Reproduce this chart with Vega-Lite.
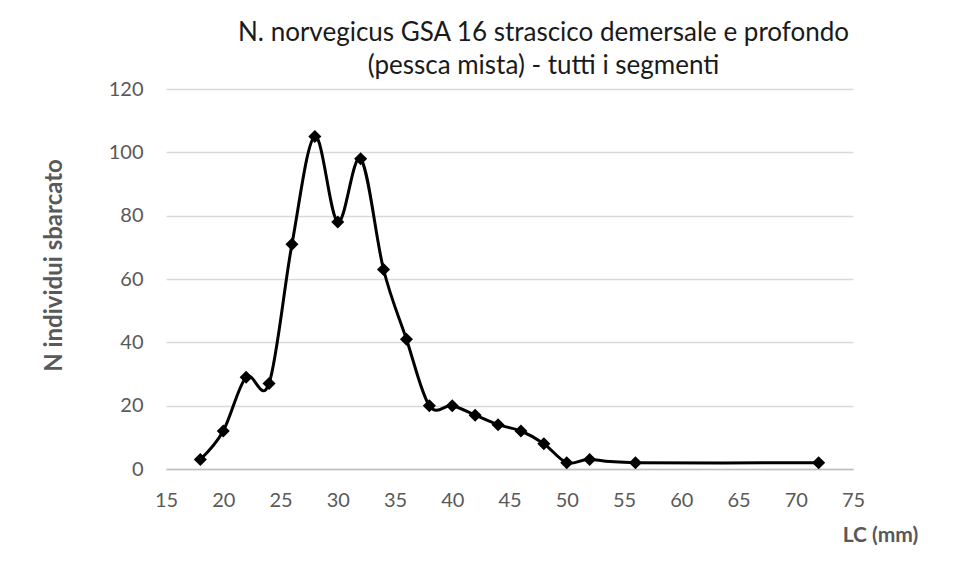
{
  "$schema": "https://vega.github.io/schema/vega-lite/v6.json",
  "width": 687,
  "height": 380,
  "autosize": {"type": "none"},
  "padding": {"left": 166, "top": 89, "right": 106, "bottom": 110},
  "background": "white",
  "config": {
    "font": "Lato",
    "view": {"stroke": null}
  },
  "title": {
    "text": ["N. norvegicus GSA 16 strascico demersale e profondo", "(pessca mista) - tutti i segmenti"],
    "font": "Lato",
    "fontSize": 26,
    "fontWeight": "normal",
    "color": "#1a1a1a",
    "anchor": "middle",
    "frame": "group",
    "dx": 34,
    "lineHeight": 33,
    "offset": 0
  },
  "data": {
    "values": [
      {"lc": 18, "n": 3},
      {"lc": 20, "n": 12},
      {"lc": 22, "n": 29},
      {"lc": 24, "n": 27},
      {"lc": 26, "n": 71},
      {"lc": 28, "n": 105},
      {"lc": 30, "n": 78},
      {"lc": 32, "n": 98},
      {"lc": 34, "n": 63},
      {"lc": 36, "n": 41},
      {"lc": 38, "n": 20},
      {"lc": 40, "n": 20},
      {"lc": 42, "n": 17},
      {"lc": 44, "n": 14},
      {"lc": 46, "n": 12},
      {"lc": 48, "n": 8},
      {"lc": 50, "n": 2},
      {"lc": 52, "n": 3},
      {"lc": 56, "n": 2},
      {"lc": 72, "n": 2}
    ]
  },
  "encoding": {
    "x": {
      "field": "lc",
      "type": "quantitative",
      "scale": {"domain": [15, 75], "nice": false, "zero": false},
      "axis": {
        "values": [15, 20, 25, 30, 35, 40, 45, 50, 55, 60, 65, 70, 75],
        "grid": false,
        "ticks": false,
        "domain": true,
        "domainColor": "#BFBFBF",
        "domainWidth": 1.5,
        "labelFont": "Lato",
        "labelFontSize": 20,
        "labelColor": "#595959",
        "labelPadding": 21,
        "labelFlush": false,
        "title": "LC (mm)",
        "titleFont": "Lato",
        "titleFontSize": 21,
        "titleFontWeight": "bold",
        "titleColor": "#595959",
        "titleX": 714,
        "titleY": 66,
        "titleAlign": "center",
        "titleBaseline": "middle"
      }
    },
    "y": {
      "field": "n",
      "type": "quantitative",
      "scale": {"domain": [0, 120], "nice": false},
      "axis": {
        "values": [0, 20, 40, 60, 80, 100, 120],
        "grid": true,
        "gridColor": "#D9D9D9",
        "gridWidth": 1.5,
        "ticks": false,
        "domain": false,
        "labelFont": "Lato",
        "labelFontSize": 20,
        "labelColor": "#595959",
        "labelPadding": 23,
        "title": "N individui sbarcato",
        "titleFont": "Lato",
        "titleFontSize": 24,
        "titleFontWeight": "bold",
        "titleColor": "#595959",
        "titleAngle": 270,
        "titleX": -112,
        "titleY": 176,
        "titleAlign": "center",
        "titleBaseline": "middle"
      }
    }
  },
  "layer": [
    {
      "mark": {"type": "line", "interpolate": "cardinal", "color": "black", "strokeWidth": 3}
    },
    {
      "mark": {"type": "point", "shape": "diamond", "filled": true, "color": "black", "opacity": 1, "size": 170}
    }
  ]
}
